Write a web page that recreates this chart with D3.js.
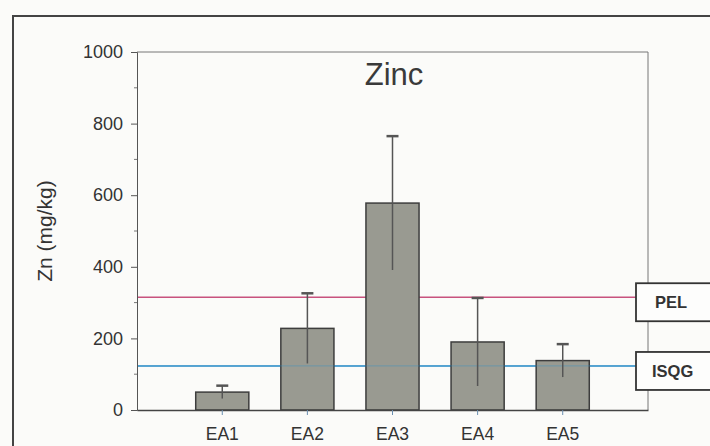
<!DOCTYPE html>
<html><head>
<meta charset="utf-8">
<script src="https://d3js.org/d3.v7.min.js"></script>
<style>
  body { margin: 0; background: #fbfbf9; }
  svg { display: block; font-family: "Liberation Sans", Arial, sans-serif; }
</style>
</head>
<body>
<svg id="chart" width="710" height="446"></svg>
<script>
  // data
  const sites = ["EA1", "EA2", "EA3", "EA4", "EA5"];
  const zinc = [50, 228, 578, 190, 138];
  const zincErr = [18, 98, 187, 123, 46];
  const yTicks = [0, 200, 400, 600, 800, 1000];
  const guideNames = ["PEL", "ISQG"];
  const guideValues = [315, 123];
  const guideColors = ["#c8527e", "#2f8fc9"];

  const svg = d3.select("#chart");
  const pLeft = 137, pRight = 648, pTop = 52, pBottom = 410;

  // outer frame (runs past right and bottom edge like the scan)
  svg.append("rect").attr("x", 13).attr("y", 16).attr("width", 720).attr("height", 460)
     .attr("fill", "none").attr("stroke", "#444").attr("stroke-width", 2);

  const x = d3.scaleBand().domain(sites).range([pLeft, pRight]).paddingInner(0.376).paddingOuter(0.69);
  const y = d3.scaleLinear().domain([0, 1000]).range([pBottom, pTop]);

  // plot frame top & right
  svg.append("path").attr("d", `M${pLeft},${pTop}H${pRight}V${pBottom}`)
     .attr("fill", "none").attr("stroke", "#777").attr("stroke-width", 1);

  // guide lines
  const g = svg.append("g");
  guideValues.forEach((v, i) => {
    g.append("line").attr("x1", pLeft).attr("x2", 640)
     .attr("y1", y(v)).attr("y2", y(v))
     .attr("stroke", guideColors[i]).attr("stroke-width", 1.6);
  });

  // bars
  svg.append("g").selectAll("rect").data(zinc).join("rect")
     .attr("x", (d, i) => x(sites[i])).attr("width", x.bandwidth())
     .attr("y", d => y(d)).attr("height", d => y(0) - y(d))
     .attr("fill", "#999a91").attr("stroke", "#3d3d3d").attr("stroke-width", 1.5);

  // the blue line shows faintly through the bars in the scan
  guideValues.forEach((v, i) => {
    if (guideNames[i] === "ISQG")
      svg.append("line").attr("x1", pLeft).attr("x2", 640)
         .attr("y1", y(v)).attr("y2", y(v))
         .attr("stroke", guideColors[i]).attr("stroke-width", 1.2).attr("opacity", 0.35);
  });

  // error bars
  const eb = svg.append("g").attr("stroke", "#555").attr("stroke-width", 1.5);
  zinc.forEach((d, i) => {
    const cx = x(sites[i]) + x.bandwidth() / 2;
    eb.append("line").attr("x1", cx).attr("x2", cx).attr("y1", y(d - zincErr[i])).attr("y2", y(d + zincErr[i]));
    eb.append("line").attr("x1", cx - 6).attr("x2", cx + 6).attr("y1", y(d + zincErr[i])).attr("y2", y(d + zincErr[i])).attr("stroke-width", 2.5);
  });

  // y axis
  const yAxis = svg.append("g").attr("transform", `translate(${pLeft},0)`)
     .call(d3.axisLeft(y).tickValues(yTicks).tickFormat(d3.format("d")).tickSize(6).tickPadding(8));
  yAxis.select(".domain").attr("stroke", "#555");
  yAxis.selectAll(".tick line").attr("stroke", "#555");
  yAxis.selectAll(".tick text").attr("font-size", 18).attr("fill", "#333");
  // minor ticks
  svg.append("g").selectAll("line").data(d3.range(100, 1000, 200)).join("line")
     .attr("x1", pLeft - 3).attr("x2", pLeft).attr("y1", d => y(d)).attr("y2", d => y(d))
     .attr("stroke", "#777");

  // x axis
  const xAxis = svg.append("g").attr("transform", `translate(0,${pBottom})`)
     .call(d3.axisBottom(x).tickSize(5).tickPadding(13).tickSizeOuter(0));
  xAxis.select(".domain").attr("stroke", "#444").attr("stroke-width", 1.5);
  xAxis.selectAll(".tick line").attr("stroke", "#6a8fb0");
  xAxis.selectAll(".tick text").attr("font-size", 17.5).attr("fill", "#333");

  // guide labels
  guideNames.forEach((n, i) => {
    const cy = y(guideValues[i]) + 5;
    svg.append("rect").attr("x", 636).attr("y", cy - 19).attr("width", 90).attr("height", 38)
       .attr("fill", "#fdfdfc").attr("stroke", "#333").attr("stroke-width", 1.8);
    svg.append("text").attr("x", i === 0 ? 655 : 652).attr("y", cy + 6).text(n)
       .attr("font-size", 16.5).attr("font-weight", "bold").attr("fill", "#333");
  });

  // title & y label
  svg.append("text").attr("x", 394).attr("y", 85).attr("text-anchor", "middle")
     .attr("font-size", 31).attr("fill", "#3a3a3a").text("Zinc");
  svg.append("text").attr("transform", "translate(52,231) rotate(-90)").attr("text-anchor", "middle")
     .attr("font-size", 21).attr("fill", "#333").text("Zn (mg/kg)");
</script>
</body></html>
